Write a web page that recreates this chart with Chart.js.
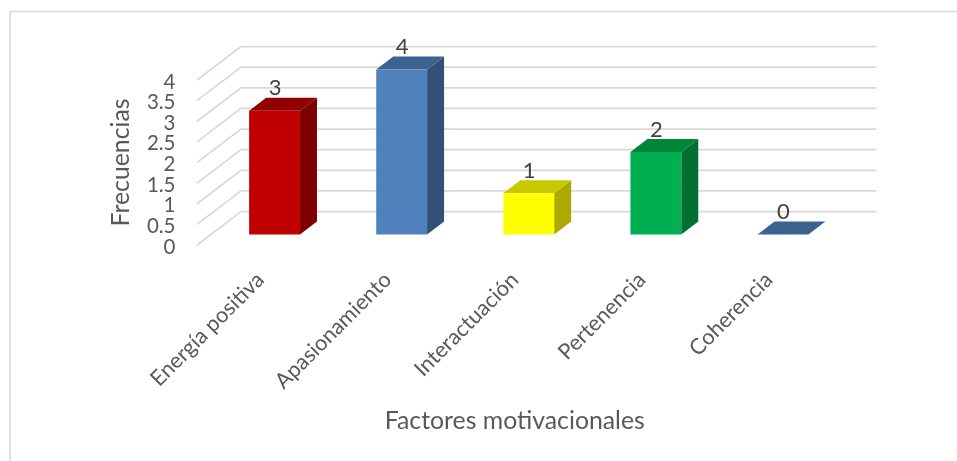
<!DOCTYPE html>
<html><head><meta charset="utf-8">
<style>html,body{margin:0;padding:0;background:#fff}#wrap{width:957px;height:461px}</style>
<script src="https://cdn.jsdelivr.net/npm/chart.js@4/dist/chart.umd.min.js"></script>
</head><body><div id="wrap"><canvas id="c" width="957" height="461"></canvas></div>
<script>
const categories = ["Energía positiva","Apasionamiento","Interactuación","Pertenencia","Coherencia"];
const values = [3,4,1,2,0];
const yTicks = [0,0.5,1,1.5,2,2.5,3,3.5,4];
const frontColors = ["#c00000","#4f81bd","#ffff00","#00b050","#4f81bd"];
const topColors = ["#900000","#3b6290","#c8c800","#00843c","#3b6290"];
const sideColors = ["#7f0000","#325078","#aaaa00","#006f32","#325078"];
const xTitle = "Factores motivacionales";
const yTitle = "Frecuencias";

const FONT = "Lato, Carlito, sans-serif";
const WALL = {dx:44, dy:33.5};
const BAR_SHIFT = {dx:14, dy:10.5};
const BAR_DEPTH = {dx:17, dy:13};

function poly(ctx, pts, color){
  ctx.fillStyle=color; ctx.beginPath();
  pts.forEach((p,i)=> i?ctx.lineTo(p[0],p[1]):ctx.moveTo(p[0],p[1]));
  ctx.closePath(); ctx.fill();
}
const box3d = {
  id:'box3d',
  beforeDraw(chart){
    const ctx=chart.ctx;
    ctx.save();
    ctx.strokeStyle='#d9d9d9'; ctx.lineWidth=1.5;
    ctx.beginPath();
    ctx.moveTo(957,11.5); ctx.lineTo(10,11.5); ctx.lineTo(10,461);
    ctx.stroke();
    ctx.restore();
  },
  beforeDatasetsDraw(chart){
    const {ctx,scales:{y},chartArea:a}=chart;
    ctx.save();
    ctx.strokeStyle='#d9d9d9'; ctx.lineWidth=1.75;
    yTicks.forEach(v=>{
      const py=y.getPixelForValue(v);
      ctx.beginPath();
      ctx.moveTo(a.left,py);
      ctx.lineTo(a.left+WALL.dx,py-WALL.dy);
      ctx.lineTo(a.right+WALL.dx,py-WALL.dy);
      ctx.stroke();
    });
    ctx.restore();
    // top and side faces, then the library's front faces, all on the mid-depth plane
    ctx.save();
    ctx.translate(BAR_SHIFT.dx,-BAR_SHIFT.dy);
    const meta=chart.getDatasetMeta(0);
    meta.data.forEach((bar,i)=>{
      const p=bar.getProps(['x','y','base','width'],true);
      const l=p.x-p.width/2,r=p.x+p.width/2,t=p.y,b=p.base,d=BAR_DEPTH;
      if(b-t>0.5) poly(ctx,[[r,t],[r+d.dx,t-d.dy],[r+d.dx,b-d.dy],[r,b]],sideColors[i]);
      poly(ctx,[[l,t],[l+d.dx,t-d.dy],[r+d.dx,t-d.dy],[r,t]],topColors[i]);
    });
  },
  afterDatasetsDraw(chart){
    const ctx=chart.ctx;
    ctx.restore();
    ctx.save();
    const meta=chart.getDatasetMeta(0);
    ctx.fillStyle='#404040';
    ctx.font='22px '+FONT;
    ctx.textAlign='center'; ctx.textBaseline='alphabetic';
    meta.data.forEach((bar,i)=>{
      ctx.fillText(String(values[i]), bar.x+BAR_SHIFT.dx+0.5, bar.y-BAR_SHIFT.dy-15.5);
    });
    ctx.restore();
  }
};

new Chart(document.getElementById('c'),{
  type:'bar',
  data:{labels:categories,datasets:[{data:values,backgroundColor:frontColors,
    barPercentage:0.4,categoryPercentage:1,clip:false,borderWidth:0}]},
  plugins:[box3d],
  options:{
    responsive:false,animation:false,
    layout:{padding:{left:0,right:124.5,top:80,bottom:0}},
    plugins:{legend:{display:false},tooltip:{enabled:false},title:{display:false}},
    scales:{
      x:{
        grid:{display:false},border:{display:false},
        afterFit(s){s.height=216;},
        ticks:{color:'#595959',font:{family:FONT,size:21.7},minRotation:45,maxRotation:45,padding:14,autoSkip:false},
        title:{display:true,text:xTitle,color:'#595959',font:{family:FONT,size:24.8},padding:{top:0,bottom:25}}
      },
      y:{
        min:0,max:4,
        grid:{display:false},border:{display:false},
        afterBuildTicks(s){s.ticks=yTicks.map(v=>({value:v}));},
        afterFit(s){s.width=197;},
        ticks:{color:'#595959',font:{family:FONT,size:20.5},padding:13.5,labelOffset:2,autoSkip:false,callback:v=>String(v)},
        title:{display:true,text:yTitle,color:'#595959',font:{family:FONT,size:24.8},padding:{top:106,bottom:0}}
      }
    }
  }
});
</script></body></html>
